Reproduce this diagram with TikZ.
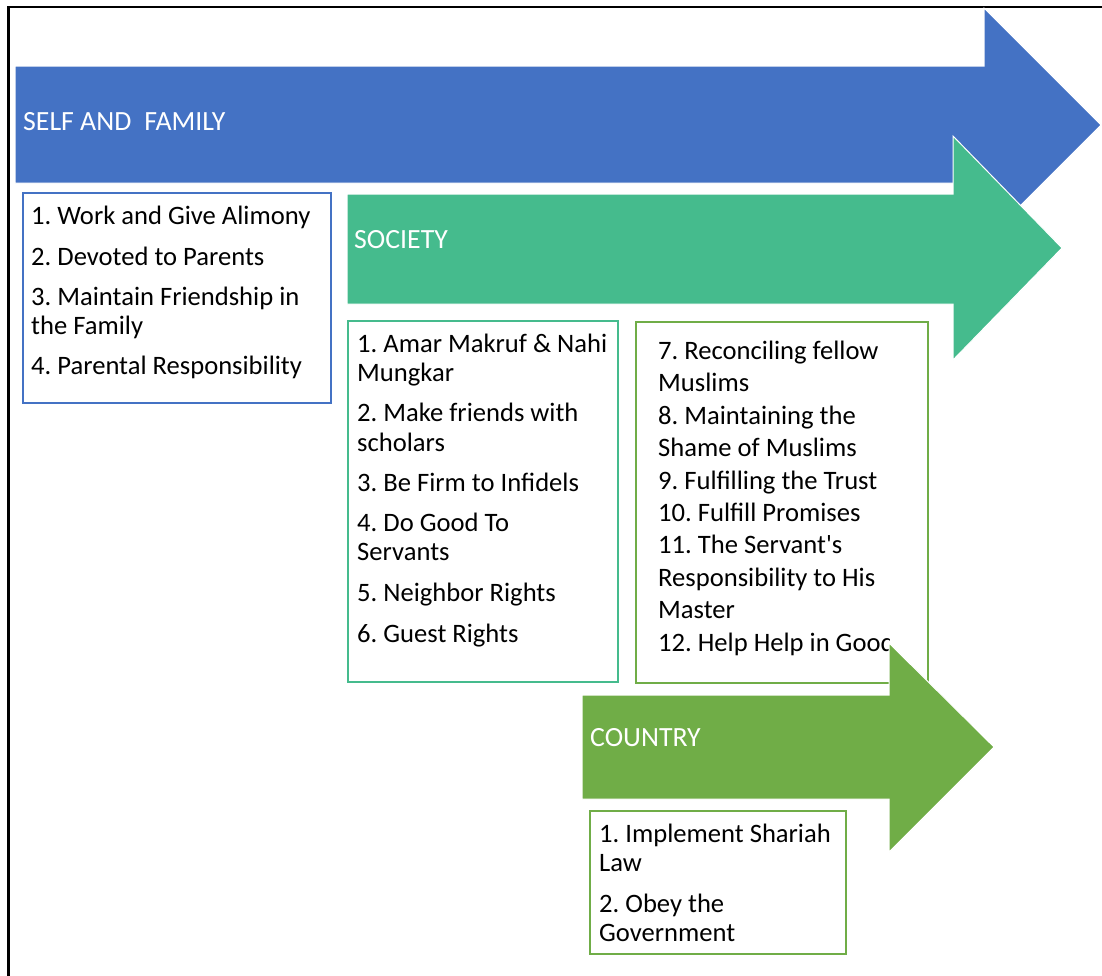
\documentclass[tikz,border=0pt]{standalone}
\usepackage{fontspec}
\setmainfont{Carlito}
\definecolor{cblue}{HTML}{4472C4}
\definecolor{cteal}{HTML}{45BB8D}
\definecolor{cgreen}{HTML}{70AD47}
\begin{document}
\frenchspacing
\begin{tikzpicture}[x=1pt,y=-1pt,
  arrowshape/.style={draw=white, line width=1pt},
  listbox/.style={line width=2.2pt, fill=white},
  itemtext/.style={anchor=base west, inner sep=0pt, font=\fontsize{26.6}{29}\selectfont\frenchspacing, text=black},
  labeltext/.style={anchor=base west, inner sep=0pt, font=\fontsize{27.8}{30}\selectfont, text=white}]
\useasboundingbox (0,0) rectangle (1102,975);
% outer frame
\draw[line width=2.4pt] (8.5,980) -- (8.5,7) -- (1110,7);
% self and family arrow
\filldraw[fill=cblue, arrowshape] (15,66) -- (984,66) -- (984,8) -- (1101,125) -- (984,242) -- (984,183) -- (15,183) -- cycle;
\node[labeltext] (lblfam) at (23,130) {SELF AND\hspace{13pt}FAMILY};
% society arrow
\filldraw[fill=cteal, arrowshape] (347,194) -- (953,194) -- (953,136) -- (1062,248) -- (953,360) -- (953,304) -- (347,304) -- cycle;
\node[labeltext] (lblsoc) at (354,248) {SOCIETY};
% box 1
\draw[listbox, draw=cblue] (23,193) rectangle (331,403);
\foreach \t/\b [count=\i] in {{1. Work and Give Alimony}/224,{2. Devoted to Parents}/265,{3. Maintain Friendship in}/305,{the Family}/334,{4. Parental Responsibility}/374}
  \node[itemtext] (fam\i) at (31,\b) {\t};
% box 2
\draw[listbox, draw=cteal] (348,321) rectangle (618,682);
\foreach \t/\b [count=\i] in {{1. Amar Makruf \& Nahi}/352,{Mungkar}/381,{2. Make friends with}/421,{scholars}/451,{3. Be Firm to Infidels}/491,{4. Do Good To}/531,{Servants}/560,{5. Neighbor Rights}/601,{6. Guest Rights}/642}
  \node[itemtext] (soca\i) at (357,\b) {\t};
% box 3
\draw[listbox, draw=cgreen] (636,322) rectangle (928,683);
\begin{scope}
\clip (600,300) rectangle (889,700);
\foreach \t/\b [count=\i] in {{7. Reconciling fellow}/359,{Muslims}/391,{8. Maintaining the}/424,{Shame of Muslims}/456,{9. Fulfilling the Trust}/489,{10. Fulfill Promises}/521,{11. The Servant\textquotesingle s}/553,{Responsibility to His}/586,{Master}/618,{12. Help Help in Good}/651}
  \node[itemtext] (socb\i) at (658,\b) {\t};
\end{scope}
% country arrow
\filldraw[fill=cgreen, arrowshape] (582,695) -- (889,695) -- (889,643) -- (994,747) -- (889,852) -- (889,799) -- (582,799) -- cycle;
\node[labeltext] (lblcty) at (590,746) {COUNTRY};
% box 4
\draw[listbox, draw=cgreen] (590,811) rectangle (846,954);
\foreach \t/\b [count=\i] in {{1. Implement Shariah}/842,{Law}/871,{2. Obey the}/912,{Government}/941}
  \node[itemtext] (cty\i) at (599,\b) {\t};
\end{tikzpicture}
\end{document}
